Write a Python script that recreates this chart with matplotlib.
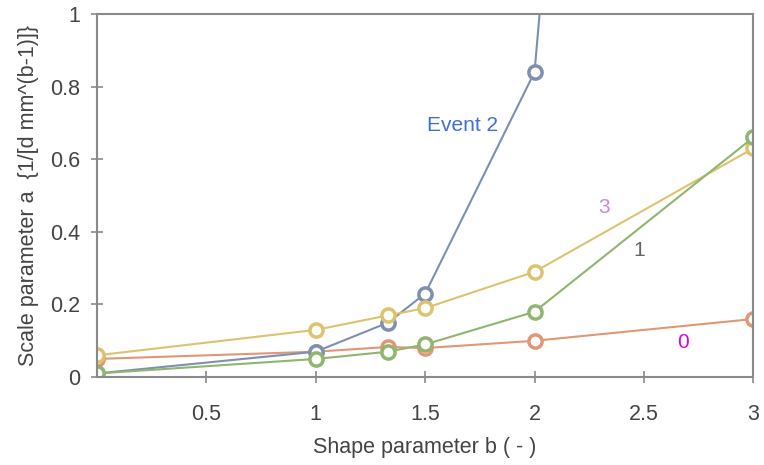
import matplotlib.pyplot as plt

plt.rcParams['font.family'] = ['Liberation Sans', 'DejaVu Sans']

# Shape parameter b values
b = [0.0, 1.0, 1.33, 1.5, 2.0, 3.0]

# Scale parameter a for each event
event2 = [0.01, 0.07, 0.15, 0.23, 0.84, 7.8]
ev3 = [0.06, 0.13, 0.17, 0.19, 0.29, 0.63]
ev1 = [0.01, 0.05, 0.07, 0.09, 0.18, 0.66]
ev0 = [0.05, 0.07, 0.083, 0.08, 0.10, 0.16]

xticks = [0.5, 1, 1.5, 2, 2.5, 3]
xticklabels = ['0.5', '1', '1.5', '2', '2.5', '3']
yticks = [0, 0.2, 0.4, 0.6, 0.8, 1.0]
yticklabels = ['0', '0.2', '0.4', '0.6', '0.8', '1']

fig = plt.figure(figsize=(7.64, 4.65), dpi=100)
ax = fig.add_axes([0.127, 0.189, 0.859, 0.781])

series = [
    (ev0, '#e39675'),
    (event2, '#7d8fb2'),
    (ev3, '#dcc36e'),
    (ev1, '#90b56e'),
]
for y, c in series:
    ax.plot(b, y, '-o', color=c, lw=1.5, ms=9.5, mfc='white', mec=c, mew=2.5)

ax.set_xlim(0, 3)
ax.set_ylim(0, 1)
ax.set_xticks(xticks)
ax.set_xticklabels(xticklabels)
ax.set_yticks(yticks)
ax.set_yticklabels(yticklabels)

for s in ax.spines.values():
    s.set_color('#8a8a8a')
    s.set_linewidth(1.5)
ax.tick_params(direction='inout', length=8, width=1.2, color='#8a8a8a',
               labelsize=15.5, labelcolor='#444444')
ax.tick_params(axis='x', pad=15)
ax.tick_params(axis='y', pad=8)

ax.set_xlabel('Shape parameter b ( - )', fontsize=15.5, color='#444444', labelpad=9)
ax.set_ylabel('Scale parameter a  {1/[d mm^(b-1)]}', fontsize=15.5, color='#444444', labelpad=8)

ax.text(1.67, 0.694, 'Event 2', color='#3d6fd6', fontsize=15, ha='center', va='center')
ax.text(2.32, 0.466, '3', color='#c486f2', fontsize=15, ha='center', va='center')
ax.text(2.48, 0.35, '1', color='#666666', fontsize=15, ha='center', va='center')
ax.text(2.68, 0.094, '0', color='#e000e0', fontsize=15, ha='center', va='center')

fig.savefig('out.png', dpi=100)
